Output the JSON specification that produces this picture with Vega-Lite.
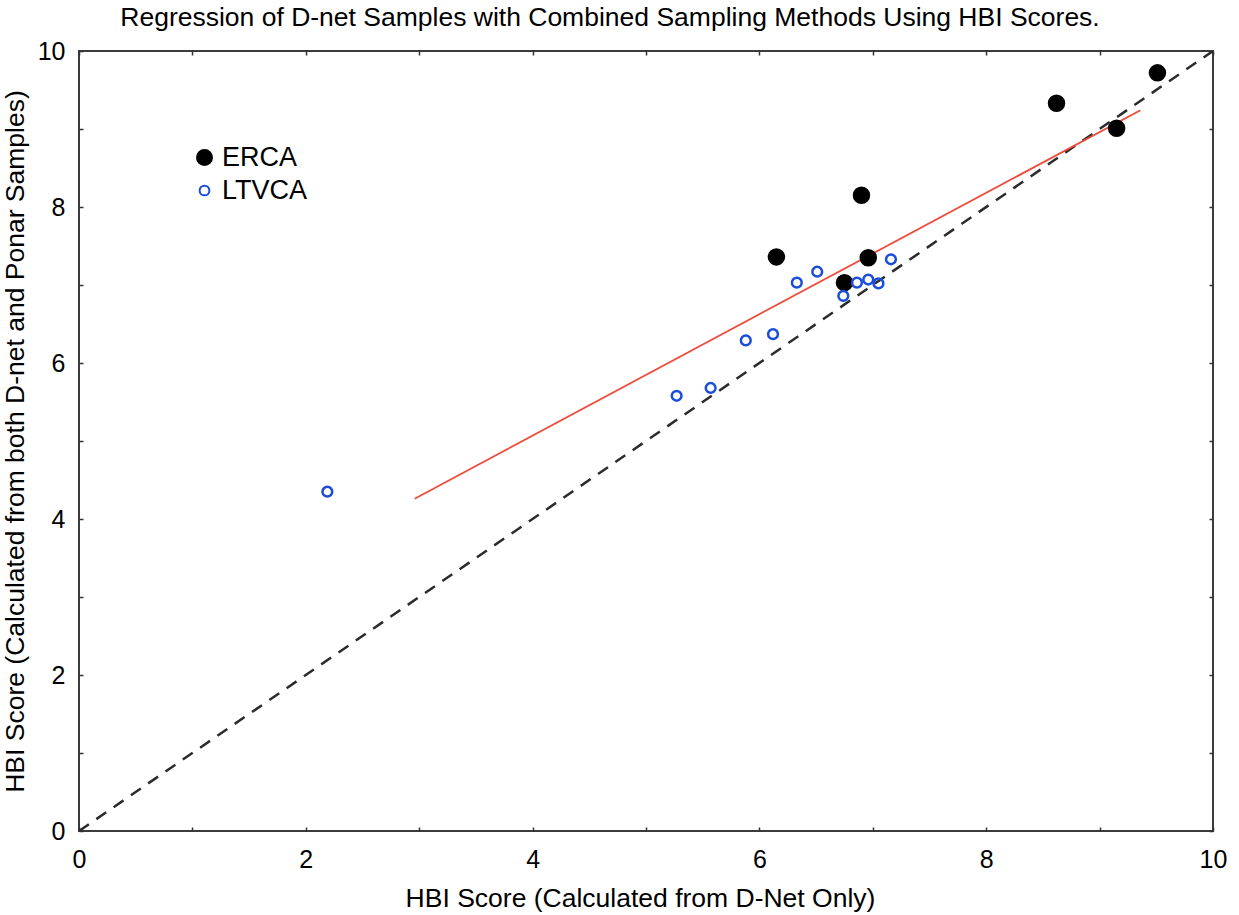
{
  "$schema": "https://vega.github.io/schema/vega-lite/v6.json",
  "autosize": {"type": "none"},
  "width": 1134,
  "height": 780,
  "padding": {"left": 79, "top": 51, "right": 26, "bottom": 84},
  "background": "white",
  "config": {
    "font": "Liberation Sans",
    "view": {"stroke": "#3c3c3c", "strokeWidth": 2},
    "axis": {
      "domain": false,
      "grid": false,
      "ticks": true,
      "tickSize": -4,
      "tickWidth": 1.5,
      "tickColor": "#333333",
      "labelFlush": false,
      "labelFontSize": 25,
      "labelColor": "#000000",
      "titleFontSize": 26.5,
      "titleFontWeight": "normal",
      "titleColor": "#000000"
    }
  },
  "title": {
    "text": "Regression of D-net Samples with Combined Sampling Methods Using HBI Scores.",
    "fontSize": 26.5,
    "fontWeight": "normal",
    "color": "#000000",
    "anchor": "middle",
    "dx": -36,
    "offset": 8
  },
  "datasets": {
    "samples": [
      {"method": "ERCA", "dnet": 6.15, "combined": 7.36},
      {"method": "ERCA", "dnet": 6.90, "combined": 8.15},
      {"method": "ERCA", "dnet": 6.75, "combined": 7.03},
      {"method": "ERCA", "dnet": 6.96, "combined": 7.35},
      {"method": "ERCA", "dnet": 8.62, "combined": 9.33},
      {"method": "ERCA", "dnet": 9.15, "combined": 9.01},
      {"method": "ERCA", "dnet": 9.51, "combined": 9.72},
      {"method": "LTVCA", "dnet": 2.19, "combined": 4.35},
      {"method": "LTVCA", "dnet": 5.27, "combined": 5.58},
      {"method": "LTVCA", "dnet": 5.57, "combined": 5.68},
      {"method": "LTVCA", "dnet": 5.88, "combined": 6.29},
      {"method": "LTVCA", "dnet": 6.12, "combined": 6.37},
      {"method": "LTVCA", "dnet": 6.33, "combined": 7.03},
      {"method": "LTVCA", "dnet": 6.51, "combined": 7.17},
      {"method": "LTVCA", "dnet": 6.74, "combined": 6.86},
      {"method": "LTVCA", "dnet": 6.86, "combined": 7.03},
      {"method": "LTVCA", "dnet": 6.96, "combined": 7.07},
      {"method": "LTVCA", "dnet": 7.05, "combined": 7.02},
      {"method": "LTVCA", "dnet": 7.16, "combined": 7.33}
    ],
    "identity": [
      {"dnet": 0, "combined": 0},
      {"dnet": 10, "combined": 10}
    ],
    "fit": [
      {"dnet": 2.96, "combined": 4.26},
      {"dnet": 9.36, "combined": 9.24}
    ]
  },
  "layer": [
    {
      "data": {"name": "identity"},
      "mark": {"type": "line", "color": "#2b2b2b", "strokeWidth": 2.5, "strokeDash": [12, 9], "clip": true},
      "encoding": {
        "x": {
          "field": "dnet", "type": "quantitative",
          "scale": {"domain": [0, 10], "nice": false, "zero": false},
          "axis": {
            "orient": "bottom",
            "title": "HBI Score (Calculated from D-Net Only)",
            "titleX": 561,
            "values": [0, 1, 2, 3, 4, 5, 6, 7, 8, 9, 10],
            "labelExpr": "datum.value % 2 === 0 ? datum.label : ''",
            "labelPadding": 20,
            "titlePadding": 13
          }
        },
        "y": {
          "field": "combined", "type": "quantitative",
          "scale": {"domain": [0, 10], "nice": false, "zero": false},
          "axis": {
            "orient": "left",
            "title": "HBI Score (Calculated from both D-net and Ponar Samples)",
            "values": [0, 1, 2, 3, 4, 5, 6, 7, 8, 9, 10],
            "labelExpr": "datum.value % 2 === 0 ? datum.label : ''",
            "labelPadding": 18,
            "titlePadding": 8
          }
        }
      }
    },
    {
      "data": {"name": "fit"},
      "mark": {"type": "line", "color": "#ee4b3b", "strokeWidth": 1.8},
      "encoding": {
        "x": {
          "field": "dnet", "type": "quantitative",
          "axis": {"orient": "top", "title": null, "values": [0, 1, 2, 3, 4, 5, 6, 7, 8, 9, 10], "labels": false}
        },
        "y": {
          "field": "combined", "type": "quantitative",
          "axis": {"orient": "right", "title": null, "values": [0, 1, 2, 3, 4, 5, 6, 7, 8, 9, 10], "labels": false}
        }
      }
    },
    {
      "data": {"name": "samples"},
      "mark": {"type": "point", "shape": "circle", "strokeWidth": 2.5, "opacity": 1},
      "encoding": {
        "x": {"field": "dnet", "type": "quantitative", "axis": null},
        "y": {"field": "combined", "type": "quantitative", "axis": null},
        "stroke": {
          "field": "method", "type": "nominal",
          "scale": {"domain": ["ERCA", "LTVCA"], "range": ["#000000", "#1b4ddb"]},
          "legend": {
            "title": null,
            "orient": "none",
            "legendX": 112,
            "legendY": 93,
            "labelFontSize": 27,
            "labelColor": "#000000",
            "symbolStrokeWidth": 2,
            "rowPadding": 5,
            "labelOffset": 4
          }
        },
        "fill": {
          "field": "method", "type": "nominal",
          "scale": {"domain": ["ERCA", "LTVCA"], "range": ["#000000", "transparent"]}
        },
        "size": {
          "field": "method", "type": "nominal",
          "scale": {"domain": ["ERCA", "LTVCA"], "range": [225, 95]}
        }
      }
    }
  ]
}
